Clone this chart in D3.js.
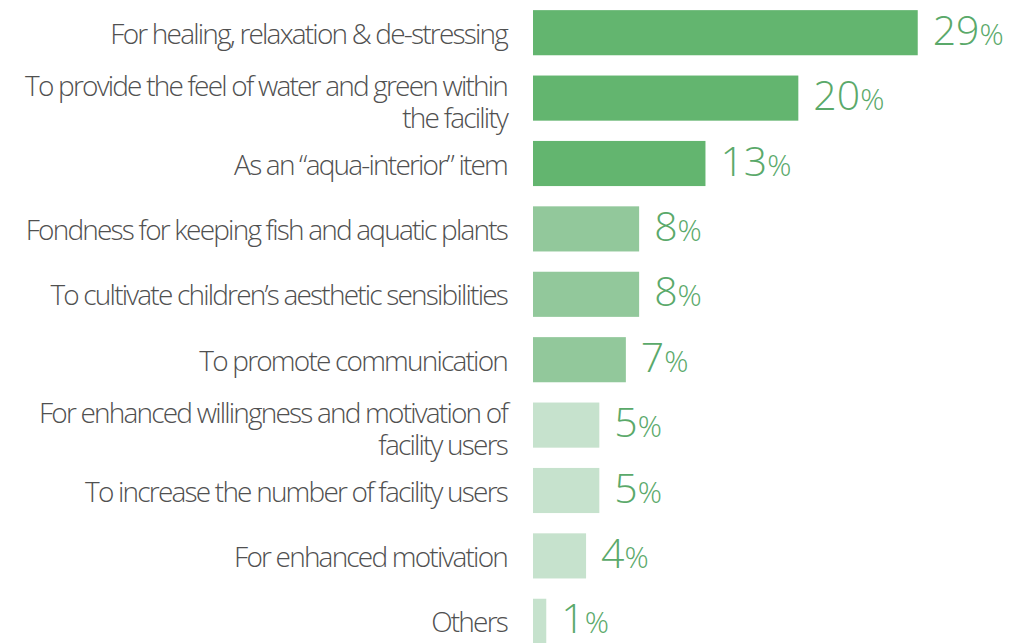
<!DOCTYPE html>
<html>
<head>
<meta charset="utf-8">
<script src="https://cdn.jsdelivr.net/npm/d3@7"></script>
<style>
  body { margin: 0; background: #fff; }
  svg { display: block; }
</style>
</head>
<body>
<div id="chart"></div>
<script>
// reasons, top to bottom (line breaks as in the picture)
const categories = [
  ["For healing, relaxation & de-stressing"],
  ["To provide the feel of water and green within", "the facility"],
  ["As an \u201Caqua-interior\u201D item"],
  ["Fondness for keeping fish and aquatic plants"],
  ["To cultivate children\u2019s aesthetic sensibilities"],
  ["To promote communication"],
  ["For enhanced willingness and motivation of", "facility users"],
  ["To increase the number of facility users"],
  ["For enhanced motivation"],
  ["Others"]
];
const values = [29, 20, 13, 8, 8, 7, 5, 5, 4, 1];
// shade group per bar: 0 dark, 1 medium, 2 light
const shades = [0, 0, 0, 1, 1, 1, 2, 2, 2, 2];
const shadeColors = ["#63b56f", "#92c89b", "#c6e2cd"];

const width = 1025;
const height = 643;
const barLeft = 533;

const svg = d3.select("#chart")
  .append("svg")
  .attr("width", width)
  .attr("height", height);

const x = d3.scaleLinear()
  .domain([0, 30])
  .range([barLeft, barLeft + 398]);

const y = d3.scaleBand()
  .domain(d3.range(values.length))
  .range([0, 654])
  .paddingInner(0.31)
  .paddingOuter(0.155);

// bars
svg.append("g")
  .selectAll("rect")
  .data(values)
  .join("rect")
  .attr("x", x(0))
  .attr("y", (d, i) => y(i))
  .attr("width", d => x(d) - x(0))
  .attr("height", y.bandwidth())
  .attr("fill", (d, i) => shadeColors[shades[i]]);

// value labels
const vl = svg.append("g")
  .selectAll("text")
  .data(values)
  .join("text")
  .attr("x", d => x(d) + 15)
  .attr("y", (d, i) => y(i) + y.bandwidth() / 2 + 12)
  .attr("fill", "#5aa96a")
  .style("font-family", "'Open Sans', sans-serif")
  .style("font-weight", "300");
vl.append("tspan").style("font-size", "41px").text(d => d);
vl.append("tspan").style("font-size", "30px").text("%");

// category labels
const lineH = 32;
svg.append("g")
  .selectAll("text")
  .data(categories)
  .join("text")
  .attr("text-anchor", "end")
  .attr("fill", "#505050")
  .style("font-family", "'Open Sans', sans-serif")
  .style("font-weight", "300")
  .style("font-size", "28px")
  .style("letter-spacing", "-1.8px")
  .each(function (lines, i) {
    const cy = y(i) + y.bandwidth() / 2;
    const top = cy + 11 - (lines.length - 1) * lineH / 2 + (lines.length > 1 ? 3 : 0);
    d3.select(this).selectAll("tspan")
      .data(lines)
      .join("tspan")
      .attr("x", 507)
      .attr("y", (l, k) => top + k * lineH)
      .text(l => l);
  });
</script>
</body>
</html>
